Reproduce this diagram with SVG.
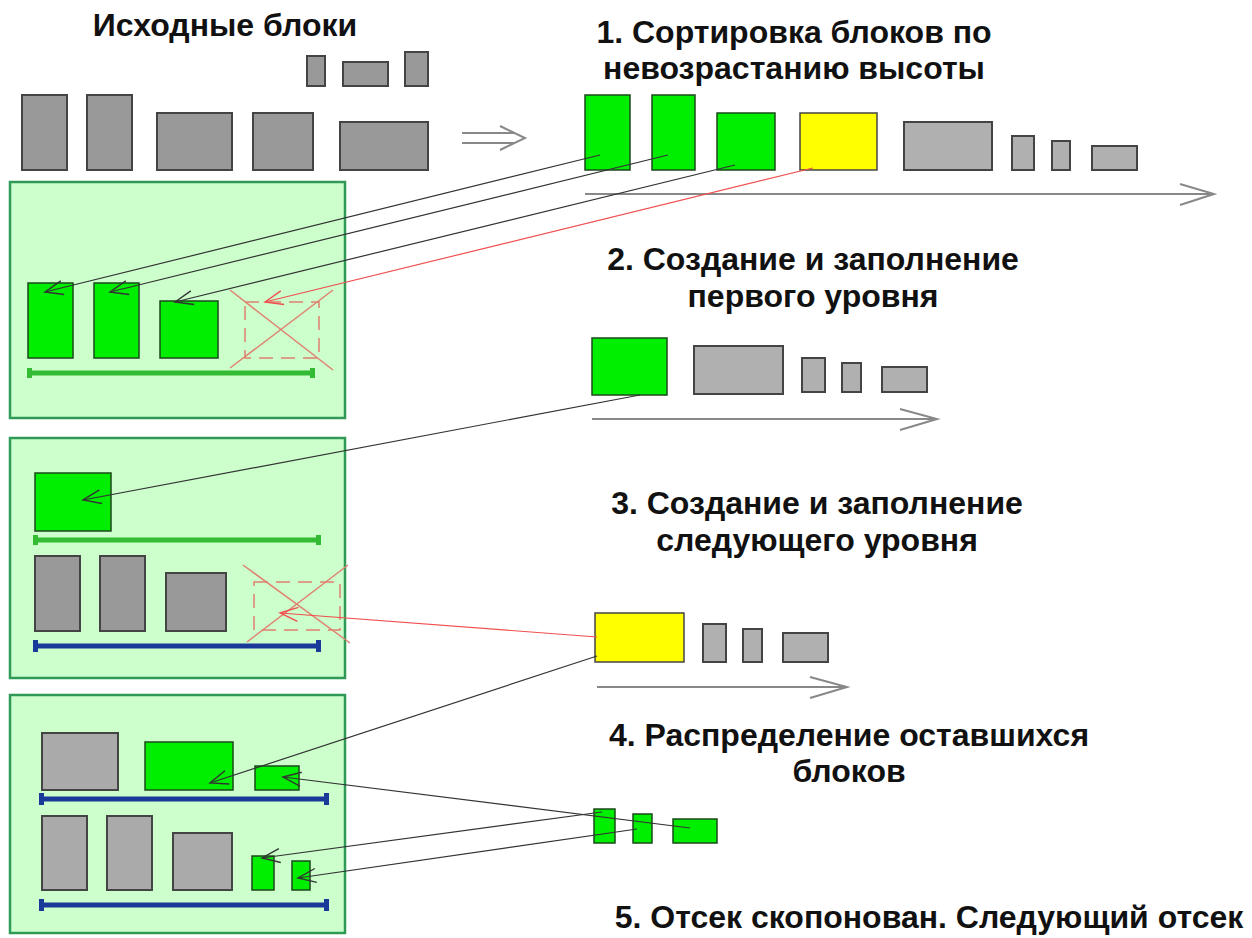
<svg xmlns="http://www.w3.org/2000/svg" width="1252" height="938" viewBox="0 0 1252 938">
<defs>
<style>
.t{font-family:"Liberation Sans",Arial,sans-serif;font-weight:bold;font-size:32px;fill:#111;text-anchor:middle}
.g1{fill:#999;stroke:#444;stroke-width:2}
.g2{fill:#b0b0b0;stroke:#444;stroke-width:2}
.g3{fill:#aaa;stroke:#444;stroke-width:2}
.gr{fill:#00ee00;stroke:#1a4a1a;stroke-width:1.5}
.ye{fill:#ffff00;stroke:#444;stroke-width:1.5}
.box{fill:#ccffcc;stroke:#2e9a55;stroke-width:2.5}
.bg{stroke:#33bb33;stroke-width:5}
.bb{stroke:#1a3a99;stroke-width:5}
.capg{fill:#33bb33}
.capb{fill:#1a3a99}
.ax{stroke:#888;stroke-width:2;fill:none}
.cn{stroke:#333;stroke-width:1.2;fill:none;marker-end:url(#ah)}
.cr{stroke:#f05050;stroke-width:1.2;fill:none;marker-end:url(#ahr)}
.x{stroke:#e08070;stroke-width:1.5;fill:none}
.xd{stroke:#e08070;stroke-width:1.5;fill:none;stroke-dasharray:14 8}
</style>
<marker id="ah" markerWidth="22" markerHeight="16" refX="20" refY="8" orient="auto" markerUnits="userSpaceOnUse"><path d="M2,1 L20,8 L2,15" fill="none" stroke="#333" stroke-width="1.4"/></marker>
<marker id="ahr" markerWidth="22" markerHeight="16" refX="20" refY="8" orient="auto" markerUnits="userSpaceOnUse"><path d="M2,1 L20,8 L2,15" fill="none" stroke="#f05050" stroke-width="1.4"/></marker>
</defs>
<rect width="1252" height="938" fill="#fff"/>

<g id="labels">
<text class="t" x="225" y="36">Исходные блоки</text>
<text class="t" x="794" y="43">1. Сортировка блоков по</text>
<text class="t" x="794" y="79">невозрастанию высоты</text>
<text class="t" x="813" y="270">2. Создание и заполнение</text>
<text class="t" x="813" y="307">первого уровня</text>
<text class="t" x="817" y="514">3. Создание и заполнение</text>
<text class="t" x="817" y="551">следующего уровня</text>
<text class="t" x="849" y="746">4. Распределение оставшихся</text>
<text class="t" x="849" y="782">блоков</text>
<text class="t" x="929" y="928">5. Отсек скопонован. Следующий отсек</text>
</g>

<g id="source-blocks">
<rect class="g1" x="307" y="56" width="18" height="30"/>
<rect class="g1" x="343" y="62" width="45" height="24"/>
<rect class="g1" x="405" y="52" width="23" height="34"/>
<rect class="g1" x="22" y="95" width="45" height="75"/>
<rect class="g1" x="87" y="95" width="45" height="75"/>
<rect class="g1" x="157" y="113" width="75" height="57"/>
<rect class="g1" x="253" y="113" width="60" height="57"/>
<rect class="g1" x="340" y="122" width="88" height="48"/>
<path d="M462,133 H515 M462,143 H515 M500,126 L525,138 L500,150" class="ax" stroke-width="1.5"/>
</g>

<g id="sorted-1">
<rect class="gr" x="585" y="95" width="45" height="75"/>
<rect class="gr" x="652" y="95" width="43" height="75"/>
<rect class="gr" x="717" y="113" width="58" height="57"/>
<rect class="ye" x="800" y="113" width="77" height="57"/>
<rect class="g2" x="904" y="122" width="88" height="48"/>
<rect class="g2" x="1012" y="136" width="22" height="34"/>
<rect class="g2" x="1052" y="141" width="18" height="29"/>
<rect class="g2" x="1092" y="146" width="45" height="24"/>
<path class="ax" d="M585,194 H1214 M1180,184 L1214,194 L1180,205"/>
</g>

<g id="sorted-2">
<rect class="gr" x="592" y="338" width="75" height="57"/>
<rect class="g2" x="694" y="346" width="89" height="48"/>
<rect class="g2" x="802" y="358" width="23" height="34"/>
<rect class="g2" x="842" y="363" width="19" height="29"/>
<rect class="g2" x="882" y="367" width="45" height="25"/>
<path class="ax" d="M592,419 H937 M900,409 L937,419 L900,430"/>
</g>

<g id="sorted-3">
<rect class="ye" x="595" y="613" width="89" height="49"/>
<rect class="g2" x="703" y="624" width="23" height="38"/>
<rect class="g2" x="743" y="629" width="19" height="33"/>
<rect class="g2" x="783" y="633" width="45" height="29"/>
<path class="ax" d="M597,687 H847 M810,677 L847,687 L810,698"/>
</g>

<g id="sorted-4">
<rect class="gr" x="594" y="809" width="21" height="34"/>
<rect class="gr" x="633" y="814" width="19" height="29"/>
<rect class="gr" x="673" y="819" width="44" height="24"/>
</g>

<g id="compartment-1">
<rect class="box" x="10" y="182" width="335" height="236"/>
<rect class="gr" x="28" y="283" width="45" height="75"/>
<rect class="gr" x="94" y="283" width="45" height="75"/>
<rect class="gr" x="160" y="301" width="58" height="57"/>
<rect class="xd" x="245" y="302" width="74" height="56"/>
<path class="x" d="M230,290 L333,370 M230,368 L333,290"/>
<line class="bg" x1="30" y1="373" x2="312" y2="373"/>
<rect class="capg" x="27" y="368" width="5" height="10"/>
<rect class="capg" x="310" y="368" width="5" height="10"/>
</g>

<g id="compartment-2">
<rect class="box" x="10" y="438" width="335" height="240"/>
<rect class="gr" x="35" y="473" width="76" height="58"/>
<line class="bg" x1="36" y1="540" x2="318" y2="540"/>
<rect class="capg" x="33" y="535" width="5" height="10"/>
<rect class="capg" x="316" y="535" width="5" height="10"/>
<rect class="g1" x="35" y="556" width="45" height="75"/>
<rect class="g1" x="100" y="556" width="45" height="75"/>
<rect class="g1" x="166" y="573" width="60" height="58"/>
<rect class="xd" x="254" y="582" width="86" height="48"/>
<path class="x" d="M243,565 L350,643 M247,642 L348,565"/>
<line class="bb" x1="36" y1="646" x2="318" y2="646"/>
<rect class="capb" x="33" y="640" width="5" height="12"/>
<rect class="capb" x="316" y="640" width="5" height="12"/>
</g>

<g id="compartment-3">
<rect class="box" x="10" y="695" width="335" height="238"/>
<rect class="g3" x="42" y="733" width="76" height="57"/>
<rect class="gr" x="145" y="742" width="88" height="48"/>
<rect class="gr" x="255" y="766" width="44" height="24"/>
<line class="bb" x1="42" y1="799" x2="326" y2="799"/>
<rect class="capb" x="39" y="793" width="5" height="12"/>
<rect class="capb" x="324" y="793" width="5" height="12"/>
<rect class="g3" x="42" y="816" width="45" height="74"/>
<rect class="g3" x="107" y="816" width="45" height="74"/>
<rect class="g3" x="173" y="833" width="59" height="57"/>
<rect class="gr" x="252" y="856" width="22" height="34"/>
<rect class="gr" x="292" y="861" width="18" height="29"/>
<line class="bb" x1="42" y1="905" x2="326" y2="905"/>
<rect class="capb" x="39" y="899" width="5" height="12"/>
<rect class="capb" x="324" y="899" width="5" height="12"/>
</g>

<g id="connectors">
<line class="cn" x1="600" y1="155" x2="45" y2="292"/>
<line class="cn" x1="668" y1="155" x2="110" y2="292"/>
<line class="cn" x1="735" y1="165" x2="175" y2="302"/>
<line class="cr" x1="813" y1="168" x2="265" y2="302"/>
<line class="cn" x1="640" y1="395" x2="83" y2="500"/>
<line class="cr" x1="597" y1="637" x2="280" y2="613"/>
<line class="cn" x1="597" y1="656" x2="210" y2="783"/>
<line class="cn" x1="690" y1="828" x2="283" y2="777"/>
<line class="cn" x1="602" y1="812" x2="262" y2="858"/>
<line class="cn" x1="637" y1="829" x2="298" y2="878"/>
</g>
</svg>
